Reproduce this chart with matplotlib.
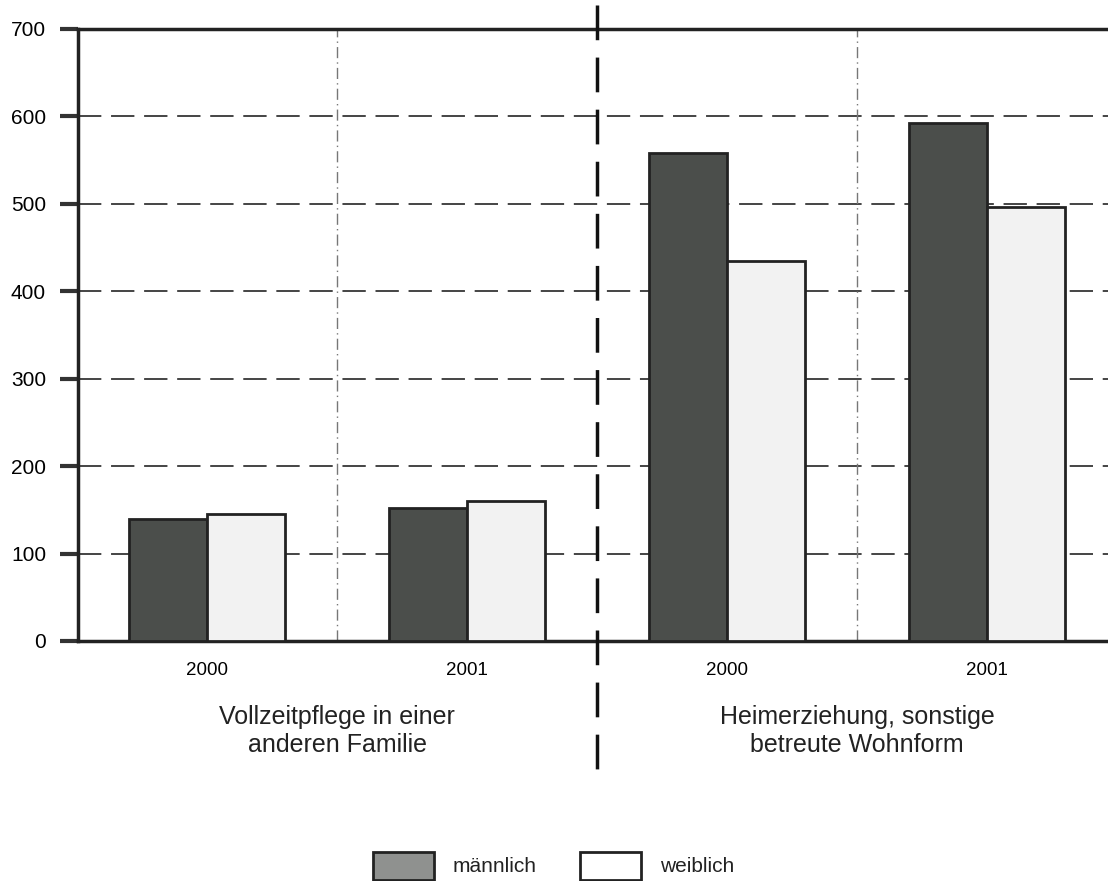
import matplotlib
matplotlib.use("Agg")
import matplotlib.pyplot as plt
from matplotlib.patches import Rectangle
import numpy as np

plt.rcParams['font.family'] = ['Liberation Sans', 'DejaVu Sans']

years = ["2000", "2001", "2000", "2001"]
groups = ["Vollzeitpflege in einer\nanderen Familie", "Heimerziehung, sonstige\nbetreute Wohnform"]
maennlich = [140, 152, 558, 592]
weiblich = [145, 160, 435, 496]
yticks = [0, 100, 200, 300, 400, 500, 600, 700]
legend_labels = ["männlich", "weiblich"]

W, H = 1108, 881
fig = plt.figure(figsize=(W/100, H/100), dpi=100)
ax = fig.add_axes([78/W, 1-641/H, 1-78/W, 612/H])

x = np.arange(len(years))
w = 0.3
c_m = "#4b4e4b"
c_w = "#f2f2f2"
ax.bar(x - w/2, maennlich, w, color=c_m, edgecolor="#222222", linewidth=2, zorder=3)
ax.bar(x + w/2, weiblich, w, color=c_w, edgecolor="#222222", linewidth=2, zorder=3)

ax.set_xlim(-0.497, 3.465)
ax.set_ylim(0, 700)
ax.set_yticks(yticks)
ax.set_yticklabels([str(v) for v in yticks], fontsize=15)
ax.set_xticks(x)
ax.set_xticklabels(years, fontsize=13.5)
ax.tick_params(axis='x', length=0, pad=15)
ax.tick_params(axis='y', length=13, width=3, direction='out', pad=10, color="#333333")

for yv in yticks[1:-1]:
    ax.axhline(yv, color="#444444", lw=1.4, ls=(0, (12, 5)), zorder=1)
for xv in [0.5, 2.5]:
    ax.axvline(xv, color="#777777", lw=1, ls=(0, (8, 3, 1, 3)), zorder=1)

# divider between groups
ax.plot([1.5, 1.5], [728, -153], color="#111111", lw=2.5, ls=(0, (10, 5)),
        clip_on=False, zorder=4)

for s in ["left", "bottom", "top"]:
    ax.spines[s].set_linewidth(2.5)
    ax.spines[s].set_color("#222222")
ax.spines["right"].set_visible(False)

# group labels
for i, g in enumerate(groups):
    ax.text(0.5 + 2*i, -73, g, ha="center", va="top", fontsize=18,
            linespacing=1.2, color="#222222", clip_on=False)

# legend (figure-level, manual placement)
leg_faces = ["#8f918f", "white"]
leg_x = [373, 580]
for lab, fc, lx in zip(legend_labels, leg_faces, leg_x):
    fig.patches.append(Rectangle((lx/W, 1-880/H), 61/W, 28/H, facecolor=fc,
                                 edgecolor="#222222", lw=2,
                                 transform=fig.transFigure, figure=fig))
    fig.text((lx + 80)/W, 1-867/H, lab, ha="left", va="center", fontsize=15,
             color="#222222")

fig.savefig("out.png", dpi=100)
